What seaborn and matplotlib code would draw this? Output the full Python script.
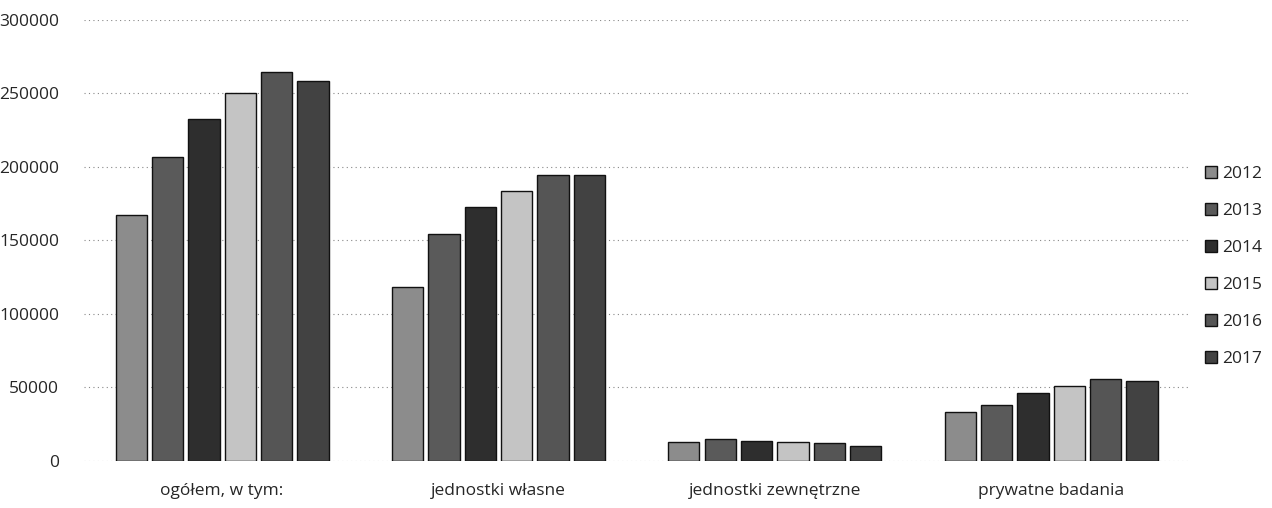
import matplotlib
matplotlib.use("Agg")
import matplotlib.pyplot as plt
import seaborn as sns
import pandas as pd

categories = ["ogółem, w tym:", "jednostki własne", "jednostki zewnętrzne", "prywatne badania"]
years = ["2012", "2013", "2014", "2015", "2016", "2017"]
values = {
    "2012": [167000, 118600, 13100, 33500],
    "2013": [207000, 154400, 14800, 38100],
    "2014": [232700, 172600, 13600, 46300],
    "2015": [250100, 183900, 13100, 51000],
    "2016": [264800, 194800, 12000, 55800],
    "2017": [258700, 194800, 10200, 54400],
}
colors = ["#8c8c8c", "#5a5a5a", "#2e2e2e", "#c4c4c4", "#555555", "#424242"]

rows = []
for y in years:
    for c, v in zip(categories, values[y]):
        rows.append({"kategoria": c, "rok": y, "wartosc": v})
df = pd.DataFrame(rows)

sns.set_style("white")
plt.rcParams["font.family"] = ["Open Sans", "DejaVu Sans"]

fig = plt.figure(figsize=(12.72, 5.08), dpi=100)
ax = fig.add_axes([0.066, 0.0925, 0.869, 0.8685])

sns.barplot(data=df, x="kategoria", y="wartosc", hue="rok", palette=colors,
            width=0.79, gap=0.14, edgecolor="#111111", linewidth=1.0, ax=ax)

ax.set_ylim(0, 300000)
ax.set_yticks(range(0, 300001, 50000))
ax.set_yticklabels([str(t) for t in range(0, 300001, 50000)], fontsize=12.5)
ax.tick_params(axis="x", labelsize=12.5, length=0, pad=16)
ax.tick_params(axis="y", length=0, pad=18)
ax.set_xlabel("")
ax.set_ylabel("")
ax.yaxis.grid(True, linestyle=(0, (1, 3)), color="#888888", linewidth=0.8)
ax.set_axisbelow(True)
for s in ax.spines.values():
    s.set_visible(False)

handles, labels = ax.get_legend_handles_labels()
ax.legend(handles, labels, loc="center left", bbox_to_anchor=(1.0, 0.44),
          frameon=False, fontsize=12.5, handlelength=0.7, handleheight=0.7,
          handletextpad=0.3, labelspacing=1.2)

fig.savefig("out.png", dpi=100)
